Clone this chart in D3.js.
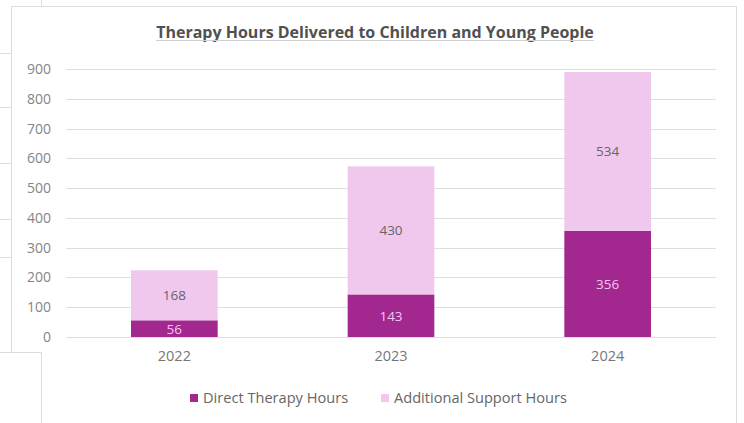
<!DOCTYPE html>
<html>
<head>
<meta charset="utf-8">
<script src="https://cdn.jsdelivr.net/npm/d3@7"></script>
<style>
  html, body { margin: 0; padding: 0; background: #fff; }
  svg { display: block; }
  text { font-family: "Open Sans", "Liberation Sans", Arial, sans-serif; }
</style>
</head>
<body>
<svg id="chart" width="744" height="423"></svg>
<script>
// Chart data
const years = ["2022", "2023", "2024"];
const directHours = [56, 143, 356];
const supportHours = [168, 430, 534];
const seriesNames = ["Direct Therapy Hours", "Additional Support Hours"];
const yTicks = [0, 100, 200, 300, 400, 500, 600, 700, 800, 900];
const chartTitle = "Therapy Hours Delivered to Children and Young People";

const colors = { direct: "#a2278f", support: "#f0c8ee" };

const svg = d3.select("#chart");
const W = 744, H = 423;

// Surrounding page frames
const frame = svg.append("g").attr("stroke", "#dcdcdc").attr("fill", "none").attr("stroke-width", 1);
frame.append("path").attr("d", "M11.5,352V6.5H736.5V423");
frame.append("path").attr("d", "M0,352.5H41.5V423");
[53.5, 107.5, 163.5, 219.5, 257.5].forEach(yy =>
  frame.append("path").attr("d", `M0,${yy}H11`));
frame.append("path").attr("d", "M41.5,0V6");

const x0 = 66, x1 = 716;
const yTop = 69, yBottom = 337;

const x = d3.scaleBand().domain(years).range([x0, x1]).paddingInner(0.6).paddingOuter(0.3);
const y = d3.scaleLinear().domain([0, 900]).range([yBottom, yTop]);

// Title with a soft underline
const title = svg.append("text")
  .attr("x", 375).attr("y", 38)
  .attr("text-anchor", "middle")
  .attr("font-family", "'DejaVu Sans Condensed', 'Liberation Sans Narrow', sans-serif")
  .attr("font-weight", "bold")
  .attr("font-size", 16)
  .attr("fill", "#505050")
  .text(chartTitle);
const tb = title.node().getBBox();
svg.append("line")
  .attr("x1", tb.x).attr("x2", tb.x + tb.width)
  .attr("y1", 40.5).attr("y2", 40.5)
  .attr("stroke", "#cfcfcf").attr("stroke-width", 1);

// Gridlines
svg.append("g")
  .selectAll("line")
  .data(yTicks)
  .join("line")
  .attr("x1", x0).attr("x2", x1)
  .attr("y1", d => Math.round(y(d)) + 0.5).attr("y2", d => Math.round(y(d)) + 0.5)
  .attr("stroke", "#dedede").attr("stroke-width", 1.2);

// Y axis labels
const yAxis = d3.axisLeft(y).tickValues(yTicks).tickSize(0).tickPadding(0);
const yg = svg.append("g").attr("transform", "translate(51,0)").call(yAxis);
yg.select(".domain").remove();
yg.selectAll("text").attr("font-size", 14).attr("fill", "#858585")
  .attr("font-family", "'Open Sans', sans-serif");

// X axis labels
const xAxis = d3.axisBottom(x).tickSize(0).tickPadding(0);
const xg = svg.append("g").attr("transform", "translate(0,351)").call(xAxis);
xg.select(".domain").remove();
xg.selectAll("text").attr("font-size", 14.5).attr("fill", "#777")
  .attr("font-family", "'Open Sans', sans-serif");

// Stacked bars
const rows = years.map((yr, i) => ({ year: yr, direct: directHours[i], support: supportHours[i] }));
const stack = d3.stack().keys(["direct", "support"])(rows);

const layers = svg.append("g").selectAll("g")
  .data(stack)
  .join("g")
  .attr("fill", d => colors[d.key]);

layers.selectAll("rect")
  .data(d => d)
  .join("rect")
  .attr("x", d => x(d.data.year))
  .attr("width", x.bandwidth())
  .attr("y", d => y(d[1]))
  .attr("height", d => y(d[0]) - y(d[1]));

// Value labels
stack.forEach(layer => {
  svg.append("g").selectAll("text")
    .data(layer)
    .join("text")
    .attr("x", d => x(d.data.year) + x.bandwidth() / 2)
    .attr("y", d => (y(d[0]) + y(d[1])) / 2)
    .attr("dy", "0.36em")
    .attr("text-anchor", "middle")
    .attr("font-size", 13.5)
    .attr("fill", layer.key === "direct" ? "#f3c6f1" : "#666")
    .text(d => d.data[layer.key]);
});

// Legend
const legendItems = [
  { name: seriesNames[0], color: colors.direct, x: 190 },
  { name: seriesNames[1], color: colors.support, x: 381 }
];
const lg = svg.append("g");
legendItems.forEach(it => {
  lg.append("rect").attr("x", it.x).attr("y", 394).attr("width", 8).attr("height", 8).attr("fill", it.color);
  lg.append("text").attr("x", it.x + 13).attr("y", 398).attr("dy", "0.36em")
    .attr("font-size", 14.6).attr("fill", "#666").text(it.name);
});
</script>
</body>
</html>
